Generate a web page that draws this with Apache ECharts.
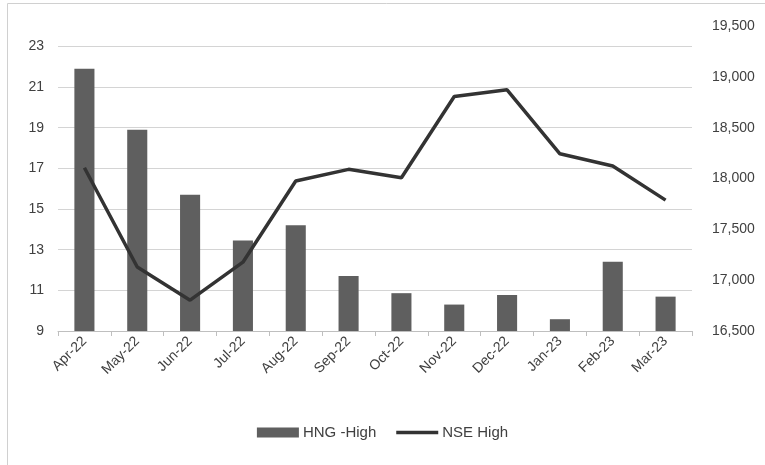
<!DOCTYPE html>
<html><head><meta charset="utf-8">
<script src="https://cdn.jsdelivr.net/npm/echarts@6/dist/echarts.min.js"></script>
<style>html,body{margin:0;padding:0;background:#fff}#c{width:765px;height:465px}</style>
</head><body><div id="c"></div>
<script>
const categories = ['Apr-22','May-22','Jun-22','Jul-22','Aug-22','Sep-22','Oct-22','Nov-22','Dec-22','Jan-23','Feb-23','Mar-23'];
const hngHigh = [21.9, 18.9, 15.7, 13.45, 14.2, 11.7, 10.86, 10.3, 10.77, 9.58, 12.41, 10.69];
const nseHigh = [18106, 17129, 16803, 17177, 17976, 18090, 18008, 18807, 18872, 18243, 18123, 17787];
const leftTicks = [9, 11, 13, 15, 17, 19, 21, 23];

const chart = echarts.init(document.getElementById('c'));
const font = 'Liberation Sans';
const txt = '#404040';
chart.setOption({
  animation: false,
  graphic: [{type:'rect', shape:{x:7.5,y:3.5,width:800,height:500}, style:{fill:'none', stroke:'#d0d0d0', lineWidth:1}, z:-1}],
  grid: {left:58, right:73, top:26, bottom:134},
  legend: {
    bottom: 20, left: 'center', itemGap: 20, itemWidth: 42, itemHeight: 10,
    symbolKeepAspect: true,
    textStyle: {fontFamily: font, fontSize: 15, color: txt, padding: [0, 0, 0, -1]},
    data: [{name:'HNG -High', icon:'rect'}, {name:'NSE High', icon:'path://M0,0L42,0L42,3.5L0,3.5Z', itemStyle:{color:'#333333'}}]
  },
  xAxis: {
    type: 'category', data: categories, boundaryGap: true,
    axisLine: {lineStyle: {color: '#bfbfbf'}},
    axisTick: {show: true, alignWithLabel: false, length: 5, lineStyle: {color: '#bfbfbf'}},
    axisLabel: {rotate: 45, fontFamily: font, fontSize: 14, color: txt, margin: 8, interval: 0}
  },
  yAxis: [{
    type: 'value', min: 9, max: 24, interval: 1,
    axisLine: {show: false}, axisTick: {show: false},
    axisLabel: {fontFamily: font, fontSize: 14, color: txt, margin: 14,
      formatter: v => leftTicks.indexOf(v) >= 0 ? String(v) : ''},
    splitLine: {lineStyle: {color: ['#d4d4d4', 'rgba(0,0,0,0)'], width: 1}}
  }, {
    type: 'value', min: 16500, max: 19500, interval: 500,
    axisLine: {show: false}, axisTick: {show: false}, splitLine: {show: false},
    axisLabel: {fontFamily: font, fontSize: 14, color: txt, margin: 20,
      formatter: v => v.toLocaleString('en-US')}
  }],
  series: [{
    name: 'HNG -High', type: 'bar', data: hngHigh, yAxisIndex: 0,
    barWidth: '38%', itemStyle: {color: '#5f5f5f'}
  }, {
    name: 'NSE High', type: 'line', data: nseHigh, yAxisIndex: 1,
    symbol: 'none', lineStyle: {color: '#333333', width: 3.5}, itemStyle: {color: '#333333'}
  }]
});
</script></body></html>
